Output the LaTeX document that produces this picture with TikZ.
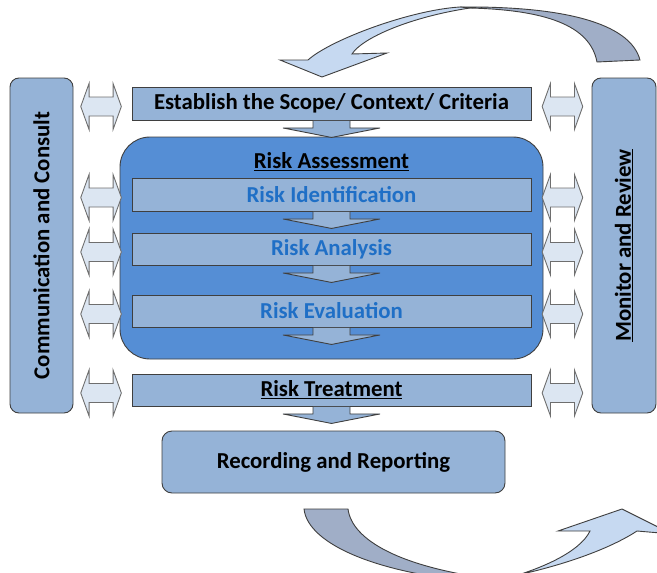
\documentclass[tikz,border=0pt]{standalone}
\usepackage{fontspec}
\setmainfont{Carlito}
\usetikzlibrary{calc}
\definecolor{riskbar}{HTML}{95B3D7}
\definecolor{riskbox}{HTML}{558ED5}
\definecolor{risktext}{HTML}{1F6FC6}
\definecolor{riskpale}{HTML}{DCE6F2}
\definecolor{riskedge}{HTML}{3F3F3F}
\definecolor{riskgrey}{HTML}{6E6E6E}
\definecolor{loopdark}{HTML}{A0AEC7}
\definecolor{looplight}{HTML}{C6D9F1}

\begin{document}
\begin{tikzpicture}[x=1pt, y=-1pt, line width=0.9pt,
    every node/.style={font=\fontsize{22.8}{27}\selectfont\bfseries, inner sep=0pt},
    band/.style={draw=riskedge, fill=riskbar, minimum width=399pt, minimum height=33pt},
    sidebox/.style={draw=riskedge, fill=riskbar, rounded corners=9pt, minimum width=63pt, minimum height=335pt},
    stage/.style={text=risktext},
    pics/downstep/.style={code={
        \filldraw[fill=riskbar, draw=riskedge] (-18.5,0.5) -- (-18.5,7.5) -- (-48.5,7.5)
            -- (0,17) -- (48.5,7.5) -- (18.5,7.5) -- (18.5,0.5);
    }},
    pics/twoway/.style={code={
        \filldraw[fill=riskpale, draw=riskgrey] (-20.3,0) -- (-12,-23) -- (-12,-9.5) -- (12,-9.5)
            -- (12,-23) -- (20.3,0) -- (12,23) -- (12,9.5) -- (-12,9.5) -- (-12,23) -- cycle;
    }},
]
    \useasboundingbox (0,0) rectangle (657,573);

    % side columns
    \node[sidebox] (comm) at (41.5,245.5) {};
    \node[rotate=90] (commlabel) at (comm.center) {Communication and Consult};
    \node[sidebox, minimum width=64pt] (monitor) at (624,245.5) {};
    \node[rotate=90] (monlabel) at (monitor.center) {\underline{Monitor and Review}};

    % main flow
    \node[band] (scope) at (331.5,103.5) {Establish the Scope/ Context/ Criteria};
    \node[draw=riskedge, fill=riskbox, rounded corners=30pt, minimum width=423pt, minimum height=222pt]
        (assess) at (331.5,248) {};
    \node (assesslabel) at (331.5,162) {\underline{Risk Assessment}};
    \node[band, stage] (ident) at (331.5,194.5) {Risk Identification};
    \node[band, stage, minimum height=32pt] (analysis) at (331.5,249) {Risk Analysis};
    \node[band, stage, minimum height=32pt] (evaluation) at (331.5,311) {Risk Evaluation};
    \node[band, minimum height=32pt] (treatment) at (331.5,390) {\underline{Risk Treatment}};
    \node[draw=riskedge, fill=riskbar, rounded corners=10pt, minimum width=343pt, minimum height=62pt]
        (record) at (333.5,462) {Recording and Reporting};

    % step arrows and the links to both columns
    \foreach \b in {scope, ident, analysis, evaluation, treatment} {
        \pic at (\b.south) {downstep};
        \pic at ($(\b.west)+(-30.5,3)$) {twoway};
        \pic at ($(\b.east)+(31,3)$) {twoway};
    }

    % loop back over the top
    \filldraw[fill=loopdark, draw=riskedge] (597,62) -- (640,60) .. controls (630,22) and (560,6) .. (460,7)
        -- (470,8) .. controls (545,10) and (590,25) .. (597,62) -- cycle;
    \filldraw[fill=looplight, draw=riskedge] (460,7) .. controls (410,10) and (330,40) .. (308,60)
        -- (280,60) -- (322,77) -- (387,53) -- (352,54)
        .. controls (362,38) and (410,17) .. (470,8) -- cycle;

    % loop on round the bottom
    \filldraw[fill=loopdark, draw=riskedge] (304,509) -- (348,509) .. controls (352,540) and (400,568) .. (500,580)
        -- (480,582) .. controls (380,574) and (308,545) .. (304,509) -- cycle;
    \filldraw[fill=looplight, draw=riskedge] (480,582) .. controls (545,572) and (605,552) .. (637,531)
        -- (672,534) -- (622,509) -- (558,531) -- (590,531)
        .. controls (580,552) and (540,570) .. (500,580) -- cycle;
\end{tikzpicture}
\end{document}
